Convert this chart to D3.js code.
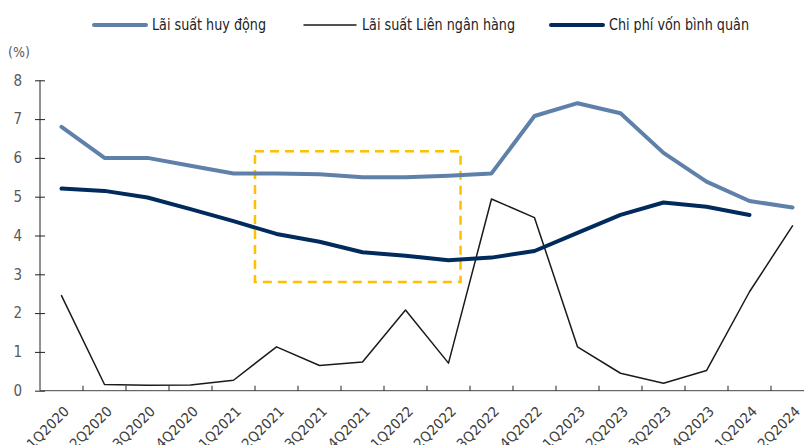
<!DOCTYPE html>
<html>
<head>
<meta charset="utf-8">
<script src="https://cdn.jsdelivr.net/npm/d3@7"></script>
<style>
  body { margin: 0; background: #fff; }
  svg text { font-family: "DejaVu Sans Condensed", "Liberation Sans Narrow", "Liberation Sans", sans-serif; }
</style>
</head>
<body>
<svg id="chart"></svg>
<script>
// chart data
var quarters = ["1Q2020", "2Q2020", "3Q2020", "4Q2020", "1Q2021", "2Q2021", "3Q2021", "4Q2021",
    "1Q2022", "2Q2022", "3Q2022", "4Q2022", "1Q2023", "2Q2023", "3Q2023", "4Q2023", "1Q2024", "2Q2024"];
var depositRate = [6.8, 6.0, 6.0, 5.8, 5.6, 5.6, 5.58, 5.5, 5.5, 5.54, 5.6, 7.08, 7.41, 7.15, 6.13, 5.39, 4.89, 4.72];
var interbankRate = [2.45, 0.16, 0.14, 0.15, 0.27, 1.13, 0.65, 0.74, 2.08, 0.71, 4.94, 4.46, 1.13, 0.45, 0.19, 0.52, 2.55, 4.25];
var costOfFunds = [5.21, 5.15, 4.98, 4.68, 4.37, 4.04, 3.84, 3.57, 3.48, 3.36, 3.43, 3.60, 4.07, 4.53, 4.85, 4.74, 4.53, null];
var yTicks = [0, 1, 2, 3, 4, 5, 6, 7, 8];
// highlighted period (dashed box)
var boxQuarters = ["2Q2021", "2Q2022"];
var boxRange = [2.8, 6.17];

var width = 804,
    height = 445;

var series = [
    { name: "Lãi suất huy động", values: depositRate, color: "#5f81a9", width: 4, textLen: 114 },
    { name: "Lãi suất Liên ngân hàng", values: interbankRate, color: "#1a1a1a", width: 1.5, textLen: 153 },
    { name: "Chi phí vốn bình quân", values: costOfFunds, color: "#002b5c", width: 4, textLen: 140 }
];

var svg = d3.select("#chart")
    .attr("width", width)
    .attr("height", height);

var x = d3.scaleBand()
    .domain(quarters)
    .range([40, 814]);

var y = d3.scaleLinear()
    .domain([0, 8])
    .range([390.7, 80.3]);

// y axis
var yAxis = svg.append("g")
    .attr("transform", "translate(40,0)")
    .call(d3.axisLeft(y).tickValues(yTicks).tickSize(5).tickPadding(13));
yAxis.select(".domain").attr("stroke", "#222").attr("d", "M0," + y(8) + "V" + y(0));
yAxis.selectAll(".tick line").attr("stroke", "#222").attr("x2", 5).attr("x1", -5);
yAxis.selectAll(".tick text")
    .attr("fill", "#595959")
    .style("font-size", "15px");

// x axis
var xAxis = svg.append("g")
    .attr("transform", "translate(0," + y(0) + ")")
    .call(d3.axisBottom(x).tickSize(0).tickPadding(0));
xAxis.select(".domain").attr("stroke", "#444").attr("d", "M40,0H814");
xAxis.selectAll(".tick text")
    .attr("fill", "#404040")
    .style("font-size", "14px")
    .attr("text-anchor", "end")
    .attr("textLength", 53)
    .attr("lengthAdjust", "spacingAndGlyphs")
    .attr("transform", "translate(5,18) rotate(-45)")
    .attr("dy", "0.35em");

// tick marks at the band boundaries
svg.append("g").selectAll("line")
    .data(quarters.slice(1))
    .enter()
    .append("line")
    .attr("x1", function(d) { return x(d); })
    .attr("x2", function(d) { return x(d); })
    .attr("y1", y(0))
    .attr("y2", y(0) - 5)
    .attr("stroke", "#222");

// highlight box
var bx0 = x(boxQuarters[0]),
    bx1 = x(boxQuarters[1]) + x.bandwidth() * 0.78;
svg.append("rect")
    .attr("x", bx0)
    .attr("y", y(boxRange[1]))
    .attr("width", bx1 - bx0)
    .attr("height", y(boxRange[0]) - y(boxRange[1]))
    .attr("fill", "none")
    .attr("stroke", "#ffc000")
    .attr("stroke-width", 2.5)
    .attr("stroke-dasharray", "9,6");

// lines
var line = d3.line()
    .defined(function(d) { return d != null; })
    .x(function(d, i) { return x(quarters[i]) + x.bandwidth() / 2; })
    .y(function(d) { return y(d); });

svg.append("g").selectAll("path")
    .data(series)
    .enter()
    .append("path")
    .attr("d", function(s) { return line(s.values); })
    .attr("fill", "none")
    .attr("stroke", function(s) { return s.color; })
    .attr("stroke-width", function(s) { return s.width; })
    .attr("stroke-linejoin", "round")
    .attr("stroke-linecap", "round");

// legend
var legendX = [94, 304, 551];
var legend = svg.append("g").selectAll("g")
    .data(series)
    .enter()
    .append("g")
    .attr("transform", function(s, i) { return "translate(" + legendX[i] + ",25)"; });
legend.append("line")
    .attr("x1", 0)
    .attr("x2", 52)
    .attr("stroke", function(s) { return s.color; })
    .attr("stroke-width", function(s) { return s.width === 4 ? 4 : 1.5; })
    .attr("stroke-linecap", "round");
legend.append("text")
    .attr("x", 58)
    .attr("dy", "0.35em")
    .attr("fill", "#222")
    .style("font-size", "15px")
    .attr("textLength", function(s) { return s.textLen; })
    .attr("lengthAdjust", "spacingAndGlyphs")
    .text(function(s) { return s.name; });

svg.append("text")
    .attr("x", 8)
    .attr("y", 57)
    .attr("fill", "#595959")
    .style("font-size", "14px")
    .text("(%)");
</script>
</body>
</html>
